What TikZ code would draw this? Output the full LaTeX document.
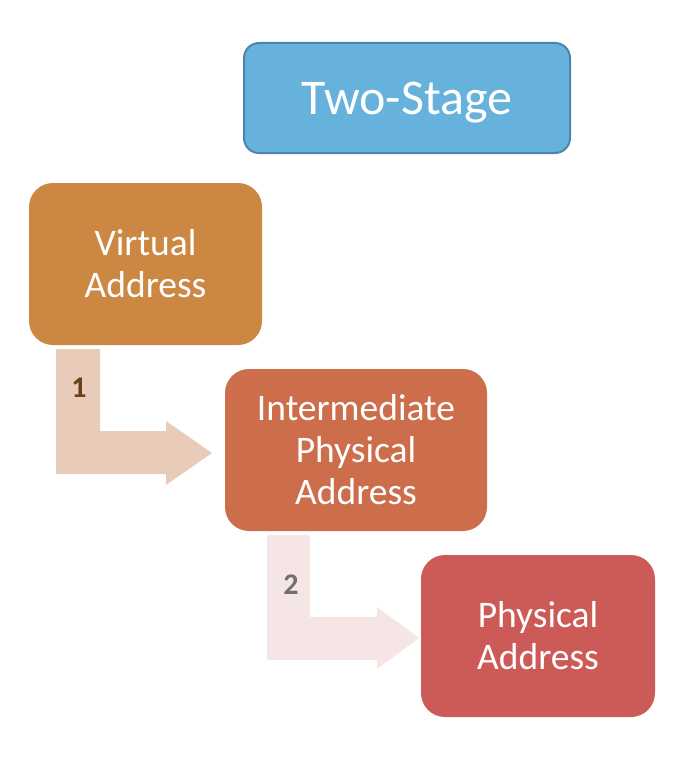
\documentclass[tikz,border=0pt]{standalone}
\usepackage{fontspec}
\setmainfont{Carlito}
\definecolor{cblue}{HTML}{67B1DD}
\definecolor{cblueb}{HTML}{4E84AB}
\definecolor{corange}{HTML}{CC8842}
\definecolor{crust}{HTML}{CC6E4C}
\definecolor{cred}{HTML}{CC5B57}
\definecolor{carrowa}{HTML}{E8CBB8}
\definecolor{carrowb}{HTML}{F5E6E5}
\definecolor{cnuma}{HTML}{6B3F1A}
\definecolor{cnumb}{HTML}{707070}
\begin{document}
\begin{tikzpicture}[x=1pt,y=-1pt,
  box/.style={rectangle,rounded corners=24pt,text=white,align=center,
    font=\fontsize{37.5}{42}\selectfont,inner sep=0pt,
    minimum width=233pt,minimum height=162pt},
  numlbl/.style={font=\fontsize{30}{30}\selectfont\bfseries,inner sep=0pt}]
\useasboundingbox (0,0) rectangle (698,760);
% block arrows
\fill[carrowa] (56,349) -- (100,349) -- (100,431) -- (166,431) -- (166,421)
  -- (212,453) -- (166,485) -- (166,474) -- (56,474) -- cycle;
\fill[carrowb] (267,535) -- (310,535) -- (310,617) -- (377,617) -- (377,607)
  -- (419,638) -- (377,669) -- (377,660) -- (267,660) -- cycle;
\node[numlbl,text=cnuma] (n1) at (79,388) {1};
\node[numlbl,text=cnumb] (n2) at (291,585) {2};
% boxes
\node[box,fill=cblue,draw=cblueb,line width=2pt,rounded corners=15pt,
  minimum width=326pt,minimum height=110pt] (ts) at (407,98) {};
\node[text=white,inner sep=0pt,font=\fontsize{50}{52}\selectfont]
  (tst) at ([yshift=-5pt]ts.center) {Two-Stage};
\node[box,fill=corange] (va) at (145.5,264) {Virtual\\Address};
\node[box,fill=crust,minimum width=262pt] (ipa) at (356,450) {Intermediate\\Physical\\Address};
\node[box,fill=cred,minimum width=234pt] (pa) at (538,636) {Physical\\Address};
\end{tikzpicture}
\end{document}
